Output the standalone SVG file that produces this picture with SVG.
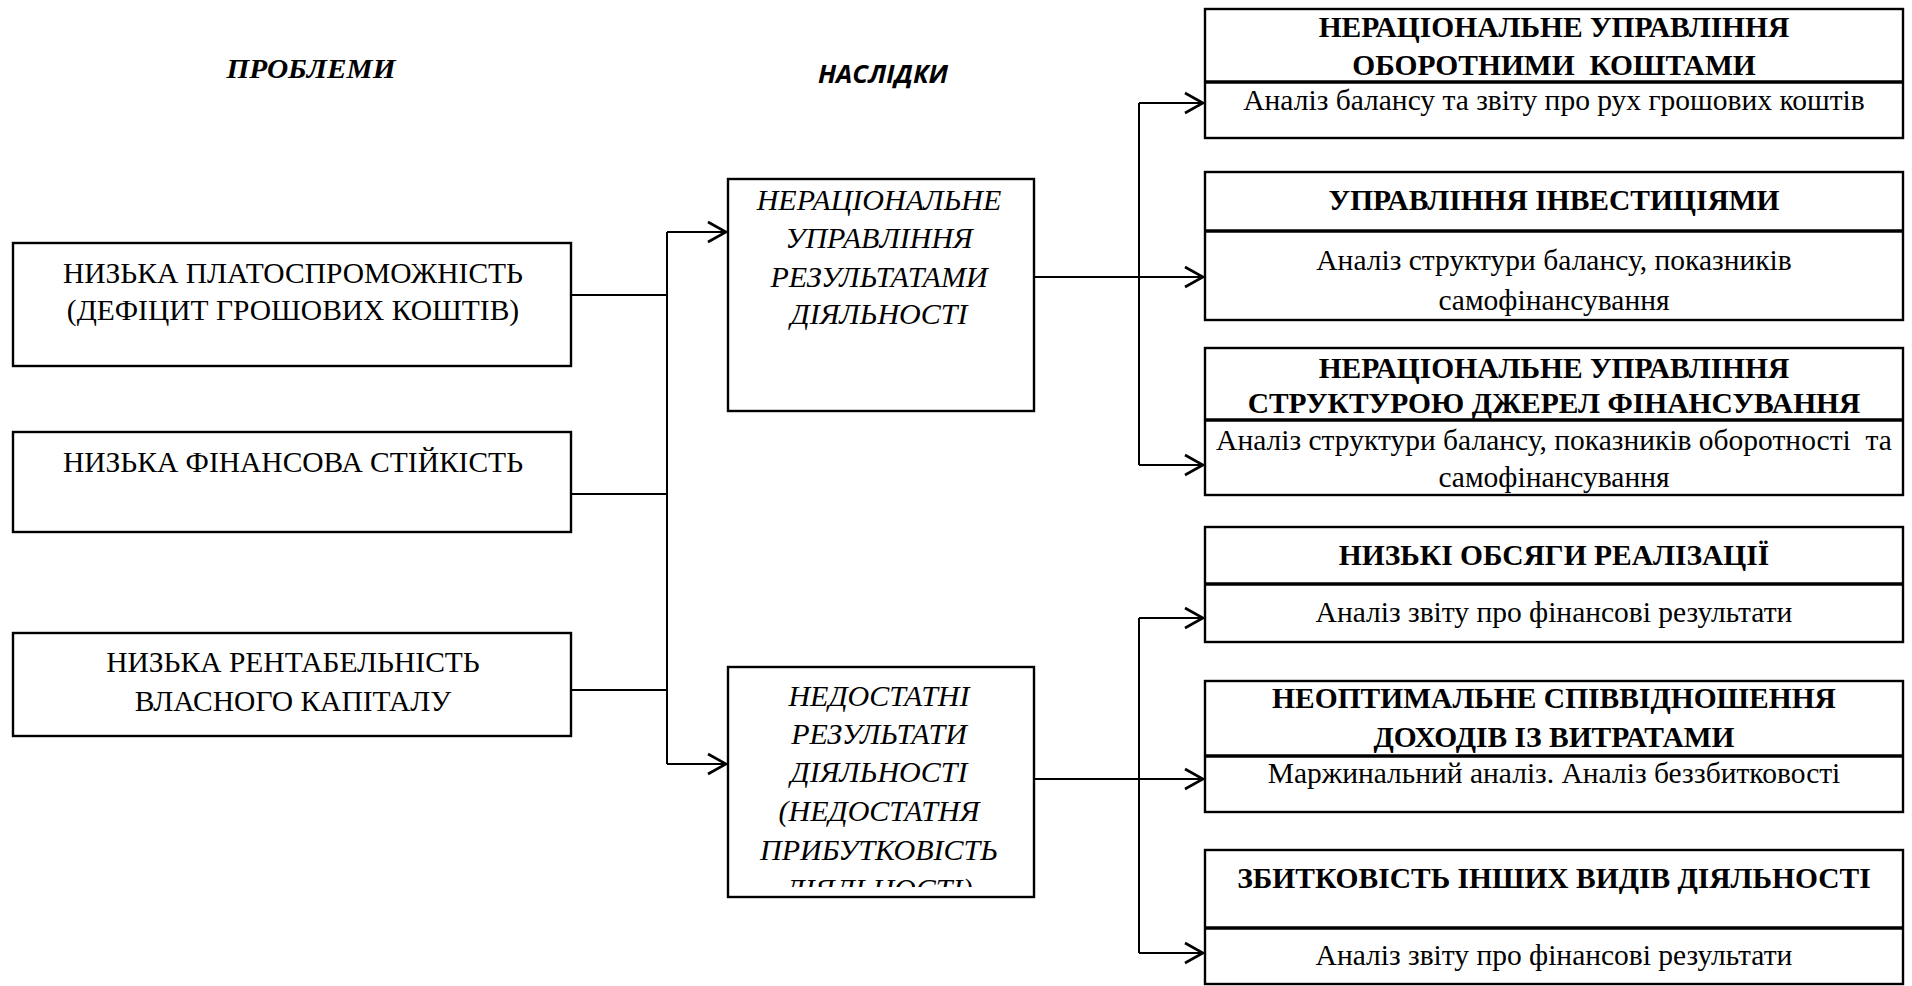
<svg xmlns="http://www.w3.org/2000/svg" width="1912" height="986" viewBox="0 0 1912 986">
<defs>
<style>
.box{fill:#fff;stroke:#000;stroke-width:2.4}
.div{stroke:#000;stroke-width:3.4}
.ln{fill:none;stroke:#000;stroke-width:2}
.t{font-family:"Liberation Serif","Times New Roman",serif;font-size:29.5px;fill:#000;text-anchor:middle}
.i{font-style:italic;font-size:30px}
.b{font-weight:bold}
.hdr{font-family:"Liberation Serif","Times New Roman",serif;font-size:28px;font-weight:bold;font-style:italic;fill:#000;text-anchor:middle}
.hdr2{font-family:"Open Sans","Liberation Sans",sans-serif;font-size:25px;font-weight:bold;font-style:italic;fill:#000;text-anchor:middle}
</style>
<marker id="arr" viewBox="-20 -12 24 24" markerWidth="24" markerHeight="24" refX="0" refY="0" orient="auto" markerUnits="userSpaceOnUse">
<path d="M-18,-10 L0,0 L-18,10" fill="none" stroke="#000" stroke-width="2.6"/>
</marker>
<clipPath id="clipM2"><rect x="729" y="668" width="304" height="219"/></clipPath>
</defs>

<g id="headers">
<text class="hdr" x="311" y="78" textLength="169" lengthAdjust="spacingAndGlyphs">ПРОБЛЕМИ</text>
<text class="hdr2" x="883" y="83" textLength="130" lengthAdjust="spacingAndGlyphs">НАСЛІДКИ</text>
</g>

<g id="connectors">
<line class="ln" x1="571" y1="295" x2="667" y2="295"/>
<line class="ln" x1="571" y1="494" x2="667" y2="494"/>
<line class="ln" x1="571" y1="690" x2="667" y2="690"/>
<line class="ln" x1="667" y1="232" x2="667" y2="764"/>
<line class="ln" x1="667" y1="232" x2="726" y2="232" marker-end="url(#arr)"/>
<line class="ln" x1="667" y1="764" x2="726" y2="764" marker-end="url(#arr)"/>
<line class="ln" x1="1034" y1="277" x2="1203" y2="277" marker-end="url(#arr)"/>
<line class="ln" x1="1139" y1="103" x2="1139" y2="465"/>
<line class="ln" x1="1139" y1="103" x2="1203" y2="103" marker-end="url(#arr)"/>
<line class="ln" x1="1139" y1="465" x2="1203" y2="465" marker-end="url(#arr)"/>
<line class="ln" x1="1034" y1="779" x2="1203" y2="779" marker-end="url(#arr)"/>
<line class="ln" x1="1139" y1="618" x2="1139" y2="953"/>
<line class="ln" x1="1139" y1="618" x2="1203" y2="618" marker-end="url(#arr)"/>
<line class="ln" x1="1139" y1="953" x2="1203" y2="953" marker-end="url(#arr)"/>
</g>

<g id="p1">
<rect class="box" x="13" y="243" width="558" height="123"/>
<text class="t" x="293" y="283">НИЗЬКА ПЛАТОСПРОМОЖНІСТЬ</text>
<text class="t" x="293" y="320">(ДЕФІЦИТ ГРОШОВИХ КОШТІВ)</text>
</g>
<g id="p2">
<rect class="box" x="13" y="432" width="558" height="100"/>
<text class="t" x="293" y="472">НИЗЬКА ФІНАНСОВА СТІЙКІСТЬ</text>
</g>
<g id="p3">
<rect class="box" x="13" y="633" width="558" height="103"/>
<text class="t" x="293" y="672">НИЗЬКА РЕНТАБЕЛЬНІСТЬ</text>
<text class="t" x="293" y="711">ВЛАСНОГО КАПІТАЛУ</text>
</g>

<g id="m1">
<rect class="box" x="728" y="179" width="306" height="232"/>
<text class="t i" x="879" y="210">НЕРАЦІОНАЛЬНЕ</text>
<text class="t i" x="879" y="248">УПРАВЛІННЯ</text>
<text class="t i" x="879" y="287">РЕЗУЛЬТАТАМИ</text>
<text class="t i" x="879" y="324">ДІЯЛЬНОСТІ</text>
</g>
<g id="m2">
<rect class="box" x="728" y="667" width="306" height="230"/>
<g clip-path="url(#clipM2)">
<text class="t i" x="879" y="706">НЕДОСТАТНІ</text>
<text class="t i" x="879" y="744">РЕЗУЛЬТАТИ</text>
<text class="t i" x="879" y="782">ДІЯЛЬНОСТІ</text>
<text class="t i" x="879" y="821">(НЕДОСТАТНЯ</text>
<text class="t i" x="879" y="860">ПРИБУТКОВІСТЬ</text>
<text class="t i" x="879" y="899">ДІЯЛЬНОСТІ)</text>
</g>
</g>

<g id="r1">
<rect class="box" x="1205" y="9" width="698" height="129"/>
<line class="div" x1="1205" y1="82" x2="1903" y2="82"/>
<text class="t b" x="1554" y="37">НЕРАЦІОНАЛЬНЕ УПРАВЛІННЯ</text>
<text class="t b" x="1554" y="75" xml:space="preserve">ОБОРОТНИМИ  КОШТАМИ</text>
<text class="t" x="1554" y="110">Аналіз балансу та звіту про рух грошових коштів</text>
</g>
<g id="r2">
<rect class="box" x="1205" y="172" width="698" height="148"/>
<line class="div" x1="1205" y1="231" x2="1903" y2="231"/>
<text class="t b" x="1554" y="210">УПРАВЛІННЯ ІНВЕСТИЦІЯМИ</text>
<text class="t" x="1554" y="270">Аналіз структури балансу, показників</text>
<text class="t" x="1554" y="310">самофінансування</text>
</g>
<g id="r3">
<rect class="box" x="1205" y="348" width="698" height="147"/>
<line class="div" x1="1205" y1="420" x2="1903" y2="420"/>
<text class="t b" x="1554" y="378">НЕРАЦІОНАЛЬНЕ УПРАВЛІННЯ</text>
<text class="t b" x="1554" y="413">СТРУКТУРОЮ ДЖЕРЕЛ ФІНАНСУВАННЯ</text>
<text class="t" x="1554" y="450" xml:space="preserve">Аналіз структури балансу, показників оборотності  та</text>
<text class="t" x="1554" y="487">самофінансування</text>
</g>
<g id="r4">
<rect class="box" x="1205" y="527" width="698" height="115"/>
<line class="div" x1="1205" y1="584" x2="1903" y2="584"/>
<text class="t b" x="1554" y="565">НИЗЬКІ ОБСЯГИ РЕАЛІЗАЦІЇ</text>
<text class="t" x="1554" y="622">Аналіз звіту про фінансові результати</text>
</g>
<g id="r5">
<rect class="box" x="1205" y="681" width="698" height="131"/>
<line class="div" x1="1205" y1="756" x2="1903" y2="756"/>
<text class="t b" x="1554" y="708">НЕОПТИМАЛЬНЕ СПІВВІДНОШЕННЯ</text>
<text class="t b" x="1554" y="747">ДОХОДІВ ІЗ ВИТРАТАМИ</text>
<text class="t" x="1554" y="783">Маржинальний аналіз. Аналіз беззбитковості</text>
</g>
<g id="r6">
<rect class="box" x="1205" y="850" width="698" height="134"/>
<line class="div" x1="1205" y1="928" x2="1903" y2="928"/>
<text class="t b" x="1554" y="888">ЗБИТКОВІСТЬ ІНШИХ ВИДІВ ДІЯЛЬНОСТІ</text>
<text class="t" x="1554" y="965">Аналіз звіту про фінансові результати</text>
</g>
</svg>
